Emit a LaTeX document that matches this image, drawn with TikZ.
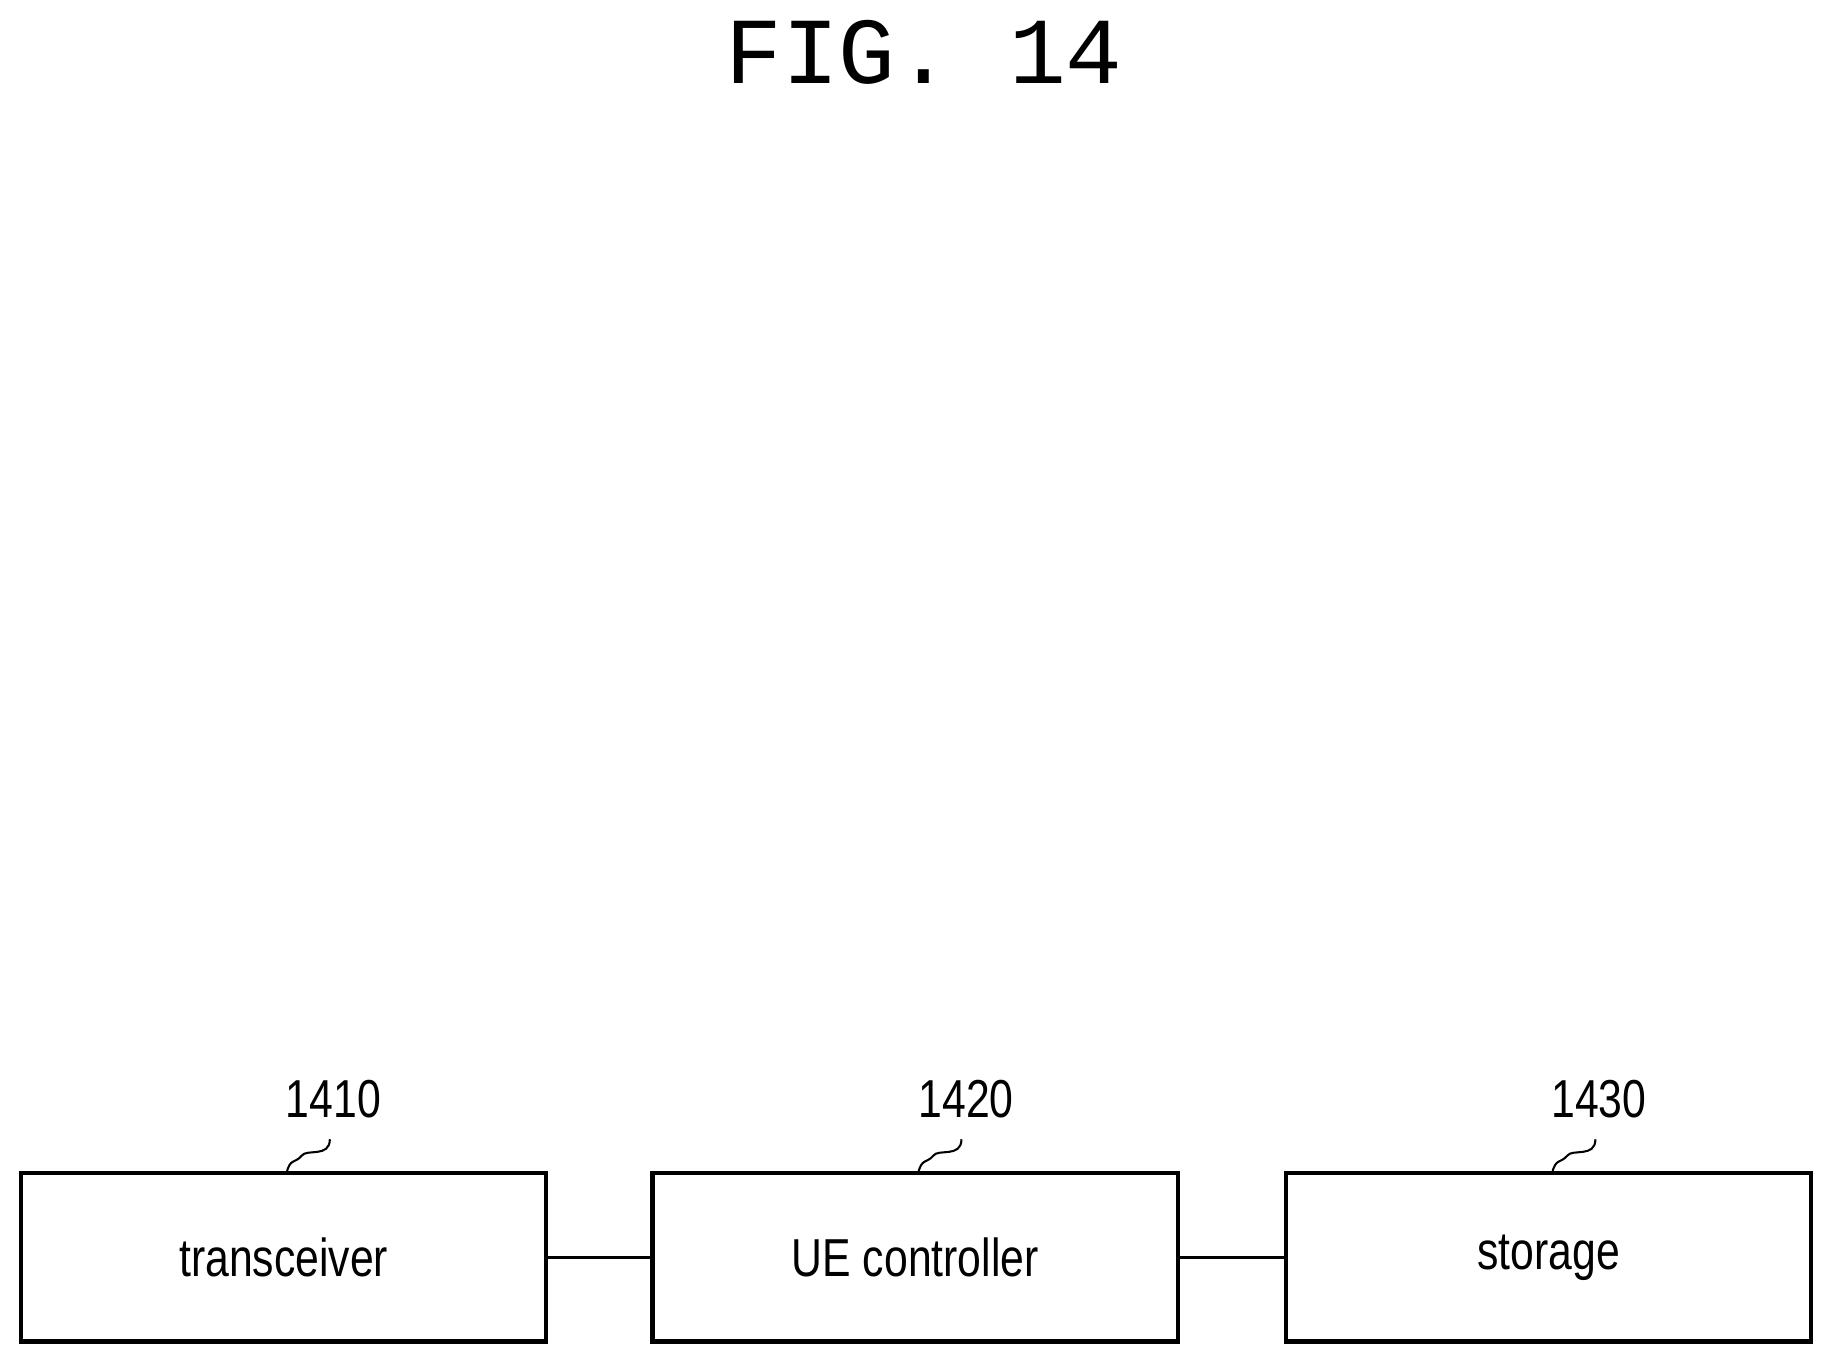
\documentclass[tikz,border=0pt]{standalone}
\usepackage{fontspec}
\setmainfont{Liberation Sans}
\newfontfamily\titlefont{Liberation Mono}
\begin{document}
\begin{tikzpicture}[x=0.02cm,y=-0.02cm,
  blk/.style={draw,line width=2.2pt,minimum width=8.98cm,minimum height=2.88cm,inner sep=0pt,font=\fontsize{26}{30}\selectfont},
  ref/.style={font=\fontsize{26}{30}\selectfont},
  wire/.style={line width=1.5pt}]
\useasboundingbox (0,0) rectangle (1568,1167);
\node[font=\titlefont\fontsize{46}{50}\selectfont] (title) at (790,45) {FIG. 14};
\node[blk] (b1) at (242.5,1075) {\scalebox{0.8}[1]{transceiver}};
\node[blk] (b2) at (782.5,1075) {\scalebox{0.8}[1]{UE controller}};
\node[blk] (b3) at (1324,1075) {\scalebox{0.8}[1]{storage}};
\node[ref] (r1) at (285,940) {\scalebox{0.8}[1]{1410}};
\node[ref] (r2) at (826,940) {\scalebox{0.8}[1]{1420}};
\node[ref] (r3) at (1367,940) {\scalebox{0.8}[1]{1430}};
\draw[wire] (b1.east) -- (b2.west);
\draw[wire] (b2.east) -- (b3.west);
\foreach \r/\b/\d in {r1/b1/0,r2/b2/540,r3/b3/1082}{
  \coordinate (s\r) at (\d+282,974);
  \draw[line width=1pt] (s\r) .. controls (\d+282,990) and (\d+262,982) .. (\d+258,988)
     .. controls (\d+252,995) and (\d+248,990) .. (\d+245,1003);
}
\end{tikzpicture}
\end{document}
